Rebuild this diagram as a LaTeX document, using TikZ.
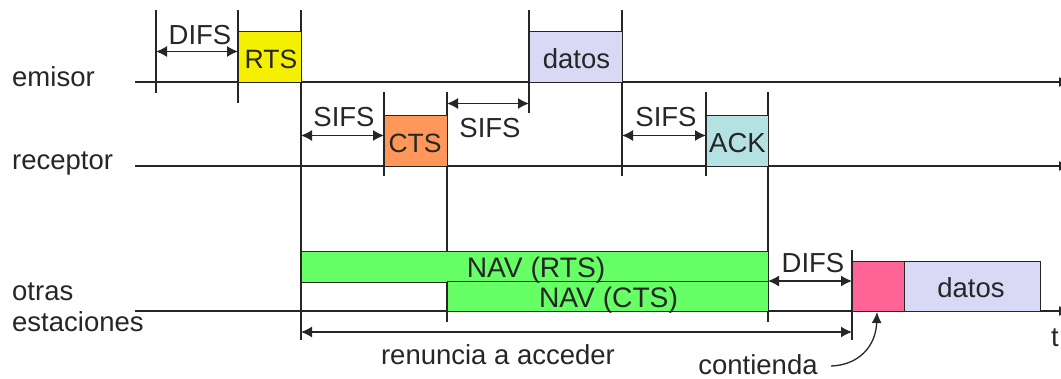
\documentclass[tikz,border=0pt]{standalone}
\usepackage{fontspec}
\setmainfont{Liberation Sans}
\usetikzlibrary{arrows.meta}
\tikzset{
  x=1pt,y=-1pt,
  ink/.style={draw=black!85,line width=1.3pt},
  tip/.style={ink,-{Latex[length=11pt,width=10pt]}},
  dim/.style={ink,{Latex[length=11pt,width=11pt]}-{Latex[length=11pt,width=11pt]}},
  lab/.style={font=\fontsize{27.5}{28}\selectfont,text=black!85,inner sep=0pt,anchor=base},
  txt/.style={font=\fontsize{27.5}{28}\selectfont,text=black!85,inner sep=0pt,anchor=base west},
  slot/.style={draw=black!85,line width=1.3pt,inner sep=0pt,anchor=north west},
}
\definecolor{cyel}{RGB}{245,240,0}
\definecolor{cora}{RGB}{255,150,90}
\definecolor{cack}{RGB}{180,225,225}
\definecolor{cdat}{RGB}{217,217,245}
\definecolor{cnav}{RGB}{102,255,102}
\definecolor{cpin}{RGB}{255,100,150}
\begin{document}
\begin{tikzpicture}
\useasboundingbox (0,0) rectangle (1061,378);
% time axes: the tips run past the right edge, as in the reference
\foreach \n/\y in {e/82,r/166,o/311}{
  \coordinate (\n L) at (135,\y);
  \coordinate (\n R) at (1070,\y);
}
\draw[tip] (eL) -- (eR);
\draw[tip] (rL) -- (rR);
\draw[tip] (oL) -- (oR);
% verticals
\foreach \n/\x/\a/\b in {a/156/10/93,b/238/10/103,c/301/10/340,d/384/92/176,f/447/92/322,g/529/10/113,h/622/10/176,i/706/92/176,j/768/92/322,k/852/250/340}{
  \coordinate (\n T) at (\x,\a);
  \coordinate (\n B) at (\x,\b);
  \draw[ink] (\n T) -- (\n B);
}
% boxes
\node[slot,fill=cyel,minimum width=63pt,minimum height=51.5pt] (rts) at (238,30.5) {};
\node[slot,fill=cora,minimum width=63pt,minimum height=51.5pt] (cts) at (384,114.5) {};
\node[slot,fill=cdat,minimum width=93pt,minimum height=51.5pt] (dat) at (529,30.5) {};
\node[slot,fill=cack,minimum width=62pt,minimum height=51.5pt] (ack) at (706,114.5) {};
\node[slot,fill=cnav,minimum width=467pt,minimum height=31pt] (nava) at (301,250.5) {};
\node[slot,fill=cnav,minimum width=321pt,minimum height=30pt] (navc) at (447,281) {};
\node[slot,fill=cpin,minimum width=52pt,minimum height=50.5pt] (cont) at (852,260.5) {};
\node[slot,fill=cdat,minimum width=136pt,minimum height=50.5pt] (dat2) at (904,260.5) {};
\draw[ink,line width=2.2pt] (dat.north west) -- (dat.south west);
% dimension arrows
\coordinate (d1a) at (156,51.5); \coordinate (d1b) at (238,51.5);
\coordinate (d2a) at (301,135.5); \coordinate (d2b) at (384,135.5);
\coordinate (d3a) at (447,103.5); \coordinate (d3b) at (529,103.5);
\coordinate (d4a) at (622,135.5); \coordinate (d4b) at (706,135.5);
\coordinate (d5a) at (768,281); \coordinate (d5b) at (852,281);
\coordinate (d6a) at (301,332); \coordinate (d6b) at (852,332);
\draw[dim] (d1a) -- (d1b);
\draw[dim] (d2a) -- (d2b);
\draw[dim] (d3a) -- (d3b);
\draw[dim] (d4a) -- (d4b);
\draw[dim] (d5a) -- (d5b);
\draw[dim] (d6a) -- (d6b);
% contienda arrow
\coordinate (c0) at (831,366);
\coordinate (c1) at (877,312);
\draw[tip] (c0) .. controls (860,365) and (876,345) .. (c1);
% labels
\node[lab,font=\fontsize{26.5}{28}\selectfont] at (271,68) {RTS};
\node[lab,font=\fontsize{26.5}{28}\selectfont] at (415,152) {CTS};
\node[lab] at (576.5,68) {datos};
\node[lab] at (737.5,152) {ACK};
\node[lab,font=\fontsize{28.2}{28}\selectfont] at (536,277) {NAV (RTS)};
\node[lab,font=\fontsize{28.2}{28}\selectfont] at (608.5,307) {NAV (CTS)};
\node[lab] at (971,297) {datos};
\node[lab] at (200,44) {DIFS};
\node[lab] at (344,126.5) {SIFS};
\node[lab] at (490,137.5) {SIFS};
\node[lab] at (666,126.5) {SIFS};
\node[lab] at (813,272) {DIFS};
\node[lab] at (498,364) {renuncia a acceder};
\node[lab] at (758,374) {contienda};
\node[lab] at (1055,346) {t};
\node[txt] at (12,86) {emisor};
\node[txt] at (12,169) {receptor};
\node[txt] at (12,300) {otras};
\node[txt] at (12,331) {estaciones};
\end{tikzpicture}
\end{document}
